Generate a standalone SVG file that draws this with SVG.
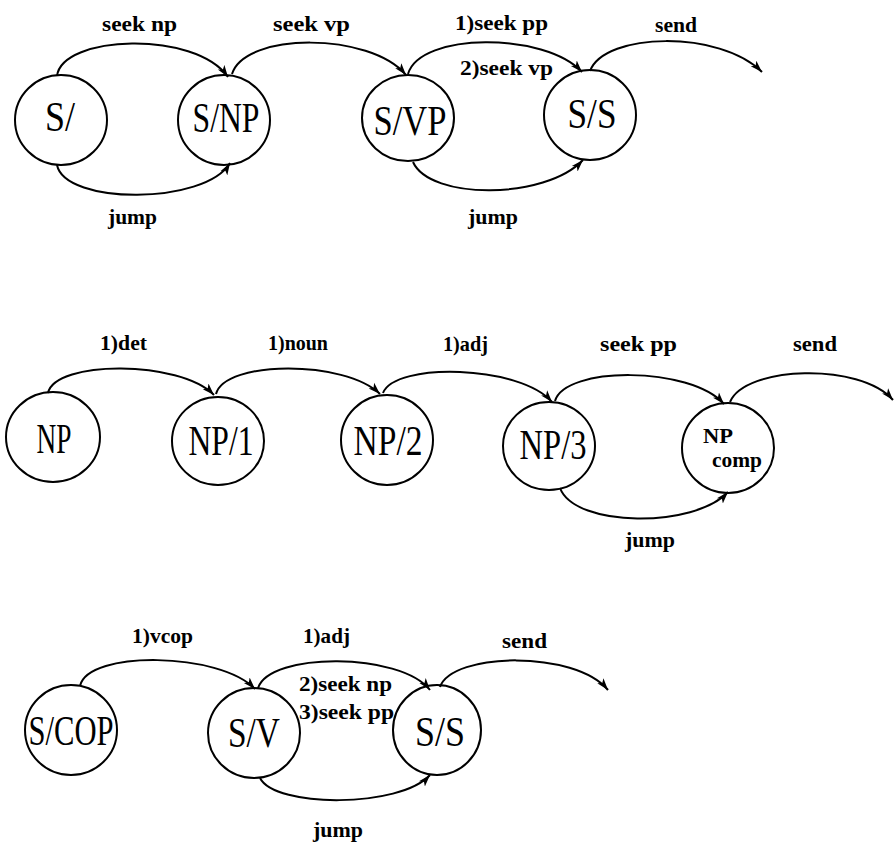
<svg xmlns="http://www.w3.org/2000/svg" width="895" height="847" viewBox="0 0 895 847">
<defs>
<style>
.node{fill:none;stroke:#000;stroke-width:2}
.nt{font-family:"Liberation Serif","Times New Roman",serif;font-size:42px;fill:#000;text-anchor:middle}
.nts{font-family:"Liberation Serif","Times New Roman",serif;font-size:20px;font-weight:bold;fill:#000}
.lbl{font-family:"Liberation Serif","Times New Roman",serif;font-size:22px;font-weight:bold;fill:#000}
.edge{fill:none;stroke:#000;stroke-width:2;marker-end:url(#arr)}
</style>
<marker id="arr" markerUnits="userSpaceOnUse" markerWidth="14" markerHeight="10" refX="12" refY="5" orient="auto">
<path d="M0,1 L12,5 L0,9 L3,5 z" fill="#000"/>
</marker>
</defs>
<rect width="895" height="847" fill="#fff"/>

<g id="connectors">
<path class="edge" d="M57,76 C62,35 195,30 228,77"/>
<path class="edge" d="M57,165 C65,205 205,205 230,163"/>
<path class="edge" d="M232,74 C245,32 370,32 406,75"/>
<path class="edge" d="M408,74 C420,32 545,32 582,72"/>
<path class="edge" d="M413,162 C430,200 545,200 583,160"/>
<path class="edge" d="M590,71 C605,32 720,30 762,72"/>

<path class="edge" d="M48,393 C55,360 180,360 214,395"/>
<path class="edge" d="M216,394 C225,360 345,360 380,394"/>
<path class="edge" d="M383,393 C395,362 520,365 552,402"/>
<path class="edge" d="M555,401 C565,366 690,366 724,404"/>
<path class="edge" d="M560,488 C575,528 695,528 728,492"/>
<path class="edge" d="M730,402 C745,366 860,362 893,400"/>

<path class="edge" d="M80,686 C88,650 220,652 255,689"/>
<path class="edge" d="M258,688 C270,652 400,652 430,690"/>
<path class="edge" d="M260,778 C275,808 400,808 430,775"/>
<path class="edge" d="M440,687 C452,652 575,650 608,690"/>
</g>

<g id="labels">
<text class="lbl" x="102" y="31" textLength="75" lengthAdjust="spacingAndGlyphs">seek np</text>
<text class="lbl" x="273" y="31" textLength="77" lengthAdjust="spacingAndGlyphs">seek vp</text>
<text class="lbl" x="455" y="30" textLength="93" lengthAdjust="spacingAndGlyphs">1)seek pp</text>
<text class="lbl" x="460" y="75" textLength="93" lengthAdjust="spacingAndGlyphs">2)seek vp</text>
<text class="lbl" x="655" y="32" textLength="42" lengthAdjust="spacingAndGlyphs">send</text>
<text class="lbl" x="108" y="224" textLength="49" lengthAdjust="spacingAndGlyphs">jump</text>
<text class="lbl" x="468" y="224" textLength="50" lengthAdjust="spacingAndGlyphs">jump</text>

<text class="lbl" x="100" y="350" textLength="47" lengthAdjust="spacingAndGlyphs">1)det</text>
<text class="lbl" x="268" y="350" textLength="60" lengthAdjust="spacingAndGlyphs">1)noun</text>
<text class="lbl" x="443" y="351" textLength="45" lengthAdjust="spacingAndGlyphs">1)adj</text>
<text class="lbl" x="600" y="351" textLength="77" lengthAdjust="spacingAndGlyphs">seek pp</text>
<text class="lbl" x="793" y="351" textLength="44" lengthAdjust="spacingAndGlyphs">send</text>
<text class="lbl" x="625" y="547" textLength="50" lengthAdjust="spacingAndGlyphs">jump</text>

<text class="lbl" x="132" y="643" textLength="61" lengthAdjust="spacingAndGlyphs">1)vcop</text>
<text class="lbl" x="303" y="643" textLength="47" lengthAdjust="spacingAndGlyphs">1)adj</text>
<text class="lbl" x="299" y="691" textLength="93" lengthAdjust="spacingAndGlyphs">2)seek np</text>
<text class="lbl" x="299" y="719" textLength="95" lengthAdjust="spacingAndGlyphs">3)seek pp</text>
<text class="lbl" x="502" y="648" textLength="45" lengthAdjust="spacingAndGlyphs">send</text>
<text class="lbl" x="313" y="837" textLength="50" lengthAdjust="spacingAndGlyphs">jump</text>
</g>

<g id="n-S"><ellipse class="node" cx="61" cy="120" rx="46" ry="45"/><text class="nt" x="60" y="131" textLength="30" lengthAdjust="spacingAndGlyphs">S/</text></g>
<g id="n-SNP"><ellipse class="node" cx="224" cy="120" rx="46" ry="45"/><text class="nt" x="226" y="132" textLength="67" lengthAdjust="spacingAndGlyphs">S/NP</text></g>
<g id="n-SVP"><ellipse class="node" cx="408" cy="118" rx="46" ry="43"/><text class="nt" x="410" y="135" textLength="73" lengthAdjust="spacingAndGlyphs">S/VP</text></g>
<g id="n-SS1"><ellipse class="node" cx="590" cy="115" rx="46" ry="45"/><text class="nt" x="592" y="128" textLength="49" lengthAdjust="spacingAndGlyphs">S/S</text></g>

<g id="n-NP"><ellipse class="node" cx="53" cy="437" rx="47" ry="45"/><text class="nt" x="54" y="453" textLength="35" lengthAdjust="spacingAndGlyphs">NP</text></g>
<g id="n-NP1"><ellipse class="node" cx="218" cy="441" rx="46" ry="44"/><text class="nt" x="221" y="455" textLength="65" lengthAdjust="spacingAndGlyphs">NP/1</text></g>
<g id="n-NP2"><ellipse class="node" cx="387" cy="440" rx="46" ry="45"/><text class="nt" x="388" y="455" textLength="69" lengthAdjust="spacingAndGlyphs">NP/2</text></g>
<g id="n-NP3"><ellipse class="node" cx="549" cy="446" rx="46" ry="44"/><text class="nt" x="553" y="459" textLength="67" lengthAdjust="spacingAndGlyphs">NP/3</text></g>
<g id="n-NPcomp"><ellipse class="node" cx="728" cy="448" rx="46" ry="45"/><text class="nts" x="703" y="443" textLength="30" lengthAdjust="spacingAndGlyphs">NP</text><text class="nts" x="712" y="467" textLength="50" lengthAdjust="spacingAndGlyphs">comp</text></g>

<g id="n-SCOP"><ellipse class="node" cx="71" cy="730" rx="46" ry="45"/><text class="nt" x="71" y="745" textLength="85" lengthAdjust="spacingAndGlyphs">S/COP</text></g>
<g id="n-SV"><ellipse class="node" cx="254" cy="733" rx="46" ry="45"/><text class="nt" x="254" y="747" textLength="52" lengthAdjust="spacingAndGlyphs">S/V</text></g>
<g id="n-SS3"><ellipse class="node" cx="437" cy="730" rx="44" ry="45"/><text class="nt" x="440" y="746" textLength="50" lengthAdjust="spacingAndGlyphs">S/S</text></g>
</svg>
